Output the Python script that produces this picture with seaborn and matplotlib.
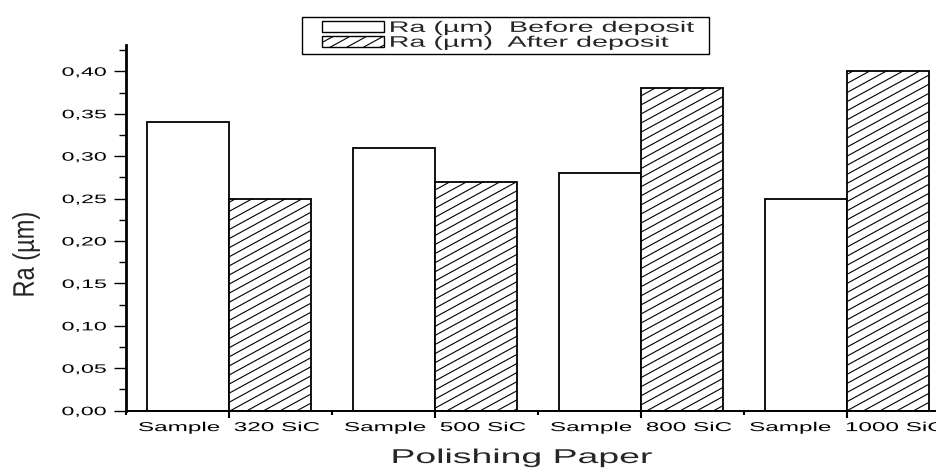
import numpy as np
import pandas as pd
import matplotlib
matplotlib.use("Agg")
import matplotlib.pyplot as plt
import matplotlib.hatch as mhatch
from matplotlib import patheffects
from matplotlib.patches import Rectangle
from matplotlib.legend_handler import HandlerPatch
from matplotlib.transforms import Affine2D
from matplotlib.ticker import MultipleLocator, FixedLocator
from matplotlib.path import Path
import seaborn as sns

# ---- data -------------------------------------------------------------
papers = ["Sample  320 SiC", "Sample  500 SiC", "Sample  800 SiC", "Sample  1000 SiC"]
ra_before = [0.34, 0.31, 0.28, 0.25]
ra_after = [0.25, 0.27, 0.38, 0.40]
series = ["Ra (µm)  Before deposit", "Ra (µm)  After deposit"]
ytick_values = [0.00, 0.05, 0.10, 0.15, 0.20, 0.25, 0.30, 0.35, 0.40]
ytick_labels = ["0,00", "0,05", "0,10", "0,15", "0,20", "0,25", "0,30", "0,35", "0,40"]
x_title = "Polishing Paper"
y_title = "Ra (µm)"


# ---- a flatter '/' hatch: lines y = s*x + k/11 with s = 6/11 ------------
class FlatNorthEastHatch(mhatch.HatchPatternBase):
    per_cell = 11   # lines crossing one cell edge vertically
    rise = 6        # cell-heights gained per 11 cell-widths

    def __init__(self, hatch, density):
        n = hatch.count('/') + hatch.count('x') + hatch.count('X')
        if n:
            k = self.per_cell * n
            self.slope = self.rise / self.per_cell
            self.offsets = np.arange(-k, 2 * k + 1) / k
        else:
            self.slope = 0.0
            self.offsets = np.array([])
        self.num_vertices = 2 * len(self.offsets)

    def set_vertices_and_codes(self, vertices, codes):
        vertices[0::2, 0] = -0.1
        vertices[0::2, 1] = self.offsets - 0.1 * self.slope
        vertices[1::2, 0] = 1.1
        vertices[1::2, 1] = self.offsets + 1.1 * self.slope
        codes[0::2] = Path.MOVETO
        codes[1::2] = Path.LINETO


mhatch._hatch_types = [FlatNorthEastHatch if h is mhatch.NorthEastHatch else h
                       for h in mhatch._hatch_types]


# ---- wide lettering: glyphs widened horizontally about an anchor -------
class Widen(patheffects.AbstractPathEffect):
    def __init__(self, sx, anchor="center"):
        super().__init__()
        self.sx = sx
        self.anchor = anchor

    def draw_path(self, renderer, gc, tpath, affine, rgbFace=None):
        ext = tpath.get_extents(affine)
        if self.anchor == "left":
            x0 = ext.x0
        elif self.anchor == "right":
            x0 = ext.x1
        else:
            x0 = 0.5 * (ext.x0 + ext.x1)
        widen = Affine2D().translate(-x0, 0).scale(self.sx, 1.0).translate(x0, 0)
        renderer.draw_path(gc, tpath, affine + widen, rgbFace)


sns.set_style("ticks")
plt.rcParams["font.family"] = ["Liberation Sans", "DejaVu Sans"]
plt.rcParams["hatch.linewidth"] = 0.8
plt.rcParams["hatch.color"] = "black"

W, H = 936, 469
fig = plt.figure(figsize=(W / 100, H / 100), dpi=100)
ax_left, ax_right, ax_top, ax_bottom = 126, 950, 45, 410.7
ax = fig.add_axes([ax_left / W, 1 - ax_bottom / H, (ax_right - ax_left) / W, (ax_bottom - ax_top) / H])

df = pd.DataFrame({
    "paper": papers * 2,
    "ra": ra_before + ra_after,
    "series": [series[0]] * len(papers) + [series[1]] * len(papers),
})

sns.barplot(data=df, x="paper", y="ra", hue="series", order=papers, hue_order=series,
            palette=["white", "white"], saturation=1, edgecolor="black", linewidth=1.3,
            width=0.8, gap=0, errorbar=None, legend=False, ax=ax)

for bar in ax.containers[1]:
    bar.set_hatch("/")

ax.set_xlim(-0.5, len(papers) - 0.5)
ax.set_ylim(0, 0.431)
ax.set_xticks(range(len(papers)), papers)
ax.xaxis.set_minor_locator(FixedLocator(np.arange(len(papers) + 1) - 0.5))
ax.set_yticks(ytick_values, ytick_labels)
ax.yaxis.set_minor_locator(MultipleLocator(0.025))

for side in ("top", "right"):
    ax.spines[side].set_visible(False)
ax.spines["left"].set_linewidth(2.0)
ax.spines["bottom"].set_linewidth(1.4)
for side in ("left", "bottom"):
    ax.spines[side].set_color("black")

ax.tick_params(axis="y", which="major", direction="out", length=8.6, width=1.0,
               labelsize=8.8, pad=5.5, colors="black")
ax.tick_params(axis="y", which="minor", direction="out", length=5, width=1.0, colors="black")
ax.tick_params(axis="x", which="major", direction="out", length=5, width=1.5,
               labelsize=9.3, pad=3.2, colors="black")
ax.tick_params(axis="x", which="minor", direction="out", length=3, width=1.5, colors="black")

for t in ax.get_yticklabels():
    t.set_path_effects([Widen(1.9, "right")])
for t in ax.get_xticklabels():
    t.set_path_effects([Widen(1.88, "center")])

ax.set_xlabel(x_title, fontsize=14.4, va="baseline")
ax.xaxis.set_label_coords((522 - ax_left) / (ax_right - ax_left),
                          (ax_bottom - 463) / (ax_bottom - ax_top))
ax.xaxis.label.set_path_effects([Widen(1.87, "center")])

ax.set_ylabel(y_title, fontsize=17)
ax.yaxis.set_label_coords((40 - ax_left) / (ax_right - ax_left),
                          (ax_bottom - 254.5) / (ax_bottom - ax_top))
ax.yaxis.label.set_path_effects([Widen(1.26, "right")])

# ---- legend --------------------------------------------------------------
fs = 11.0
px = fs * 100 / 72
leg = ax.legend(handles=[ax.containers[0][0], ax.containers[1][0]], labels=series,
                handler_map={Rectangle: HandlerPatch(xpad=16 / px)},
                loc="upper left", mode="expand",
                bbox_to_anchor=(302 / W, 1 - 17 / H, 407 / W, 0.0),
                bbox_transform=fig.transFigure, borderaxespad=0,
                frameon=True, fancybox=False, framealpha=1, edgecolor="black",
                fontsize=fs, handlelength=78 / px, handleheight=12 / px,
                handletextpad=6 / px, borderpad=0.25, labelspacing=0.05)
leg.get_frame().set_linewidth(1.0)
for t in leg.get_texts():
    t.set_path_effects([Widen(1.88, "left")])
for h in leg.legend_handles:
    h.set_linewidth(1.0)

fig.savefig("out.png", dpi=100)
